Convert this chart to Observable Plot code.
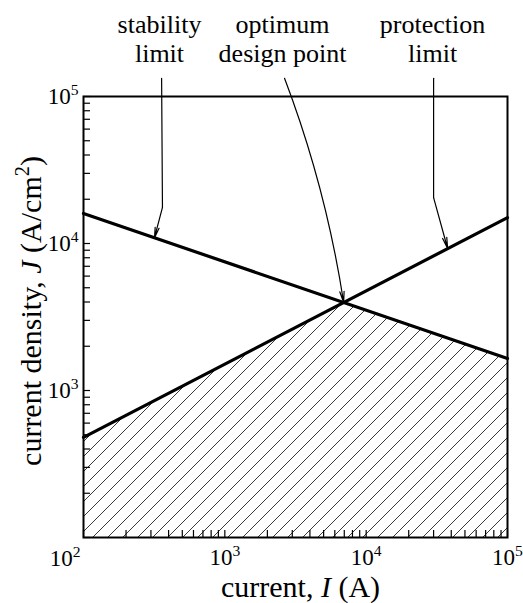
<!DOCTYPE html>
<html><head><meta charset="utf-8">
<script src="https://cdn.jsdelivr.net/npm/d3@7"></script>
<script src="https://cdn.jsdelivr.net/npm/@observablehq/plot@0.6"></script>
<style>
body{margin:0;background:#fff;}
</style>
</head><body><div id="chart"></div>
<script>
// ---- data ----
const stabilityI = [100, 100000];
const stabilityJ = [16000, 1650];
const protectionI = [100, 100000];
const protectionJ = [480, 15000];
const optimumI = 6930, optimumJ = 3970;
const floorJ = 100;
const decades = [100, 1000, 10000, 100000];
const decadeExp = ["2", "3", "4", "5"];
const minorMultipliers = [2, 3, 4, 5, 6, 7, 8, 9];
const xLabelParts = [["current, ", ""], ["I", "italic"], [" (A)", ""]];
const yLabelParts = [["current density, ", ""], ["J", "italic"], [" (A/cm", ""], ["2", "sup"], [")", ""]];
const annotationText = ["stability\nlimit", "optimum\ndesign point", "protection\nlimit"];
const annotationI = [345, 2560, 29500];
const annotationJ = [2.48e5, 2.48e5, 2.48e5];
// arrow leaders (data coordinates)
const stabilityLeaderI = [357, 362], stabilityLeaderJ = [1.33e5, 17600];
const stabilityTipI = 318, stabilityTipJ = 10950;
const protectionLeaderI = [30000, 30000], protectionLeaderJ = [1.33e5, 20500];
const protectionTipI = 37700, protectionTipJ = 9250;
const optimumLeaderI = 2645, optimumLeaderJ = 1.33e5;

// ---- build tables ----
const zip = (I, J) => I.map((v, i) => ({I: v, J: J[i]}));
const stability = zip(stabilityI, stabilityJ);
const protection = zip(protectionI, protectionJ);
const region = [
  {I: stabilityI[0], J: protectionJ[0]},
  {I: optimumI, J: optimumJ},
  {I: stabilityI[1], J: stabilityJ[1]}
];
const annotations = annotationText.map((t, i) => ({text: t, I: annotationI[i], J: annotationJ[i]}));
const minorTicks = decades.slice(0, -1).flatMap(d => minorMultipliers.map(k => k * d));
const allTicks = decades.concat(minorTicks);
const expOf = d => decadeExp[decades.indexOf(d)];
const fmt = d => "10^" + expOf(d);
const xLabel = xLabelParts.map(p => p[0]).join("");
const yLabel = yLabelParts.map(p => p[0]).join("");

const serif = "'Liberation Serif', 'Times New Roman', serif";
const thin = 1.2;
const tickFont = 23;

const chart = Plot.plot({
  width: 523, height: 603,
  marginLeft: 83, marginRight: 16, marginTop: 96, marginBottom: 66,
  style: {fontFamily: serif, background: "white", color: "black", overflow: "visible"},
  x: {type: "log", domain: [100, 100000]},
  y: {type: "log", domain: [100, 100000]},
  marks: [
    Plot.areaY(region, {x: "I", y1: floorJ, y2: "J", fill: "url(#hatch)"}),
    Plot.axisX({ticks: allTicks, tickSize: -7, fill: "none", stroke: "black", label: null, strokeWidth: 1.2}),
    Plot.axisY({ticks: allTicks, tickSize: -7, fill: "none", stroke: "black", label: null, strokeWidth: 1.2}),
    Plot.axisX({ticks: decades.slice(1), tickSize: 0, tickPadding: 11, tickFormat: fmt, label: null, fontSize: tickFont, textAnchor: "middle", dx: 0}),
    Plot.axisY({ticks: decades.slice(1), tickSize: 0, tickPadding: 5, tickFormat: fmt, label: null, fontSize: tickFont}),
    Plot.axisY({ticks: decades.slice(0, 1), tickSize: 0, tickPadding: 3, tickFormat: fmt, label: null, fontSize: tickFont, dy: 21}),
    Plot.frame({strokeWidth: 2}),
    Plot.line(stability, {x: "I", y: "J", strokeWidth: 3.2}),
    Plot.line(protection, {x: "I", y: "J", strokeWidth: 3.2}),
    Plot.line(zip(stabilityLeaderI, stabilityLeaderJ), {x: "I", y: "J", strokeWidth: thin}),
    Plot.arrow([{x1: stabilityLeaderI[1], y1: stabilityLeaderJ[1], x2: stabilityTipI, y2: stabilityTipJ}],
      {x1: "x1", y1: "y1", x2: "x2", y2: "y2", strokeWidth: thin, headLength: 14, headAngle: 22}),
    Plot.line(zip(protectionLeaderI, protectionLeaderJ), {x: "I", y: "J", strokeWidth: thin}),
    Plot.arrow([{x1: protectionLeaderI[1], y1: protectionLeaderJ[1], x2: protectionTipI, y2: protectionTipJ}],
      {x1: "x1", y1: "y1", x2: "x2", y2: "y2", strokeWidth: thin, headLength: 14, headAngle: 22}),
    Plot.arrow([{x1: optimumLeaderI, y1: optimumLeaderJ, x2: optimumI, y2: optimumJ}],
      {x1: "x1", y1: "y1", x2: "x2", y2: "y2", strokeWidth: thin, headLength: 14, headAngle: 22, bend: 6}),
    Plot.text(annotations, {x: "I", y: "J", text: "text", fontSize: 26, lineHeight: 1.1, lineAnchor: "middle"}),
    Plot.text([xLabel], {frameAnchor: "bottom", dy: 50, dx: 5, fontSize: 30, textAnchor: "middle", lineAnchor: "middle"}),
    Plot.text([yLabel], {frameAnchor: "left", rotate: -90, dx: -52, dy: -6, fontSize: 30, textAnchor: "middle", lineAnchor: "middle"})
  ]
});

document.getElementById("chart").appendChild(chart);
const svg = d3.select(chart);
svg.insert("defs", ":first-child").html(
  '<pattern id="hatch" patternUnits="userSpaceOnUse" width="15" height="15">' +
  '<path d="M-1,1 l2,-2 M0,15 l15,-15 M14,16 l2,-2" stroke="#222" stroke-width="0.9" fill="none"/></pattern>'
);

function rich(textSel, parts, size) {
  textSel.each(function() {
    const t = d3.select(this);
    t.text(null).attr("font-size", size);
    let raised = false;
    for (const [s, style] of parts) {
      const ts = t.append("tspan").text(s).attr("font-size", size);
      if (style === "italic") ts.attr("font-style", "italic");
      if (style === "sup") { ts.attr("font-size", size * 0.68).attr("dy", -size * 0.4); raised = true; }
      else if (raised) { ts.attr("dy", size * 0.4); raised = false; }
    }
  });
}
svg.selectAll("text").each(function() {
  const el = d3.select(this);
  const s = this.textContent;
  if (s === xLabel) rich(el, xLabelParts, 30);
  else if (s === yLabel) rich(el, yLabelParts, 30);
  else if (/^10\^\d$/.test(s)) {
    const [base, exp] = s.split("^");
    rich(el, [[base, ""], [exp, "sup"]], tickFont);
  }
});
</script>
</body></html>
